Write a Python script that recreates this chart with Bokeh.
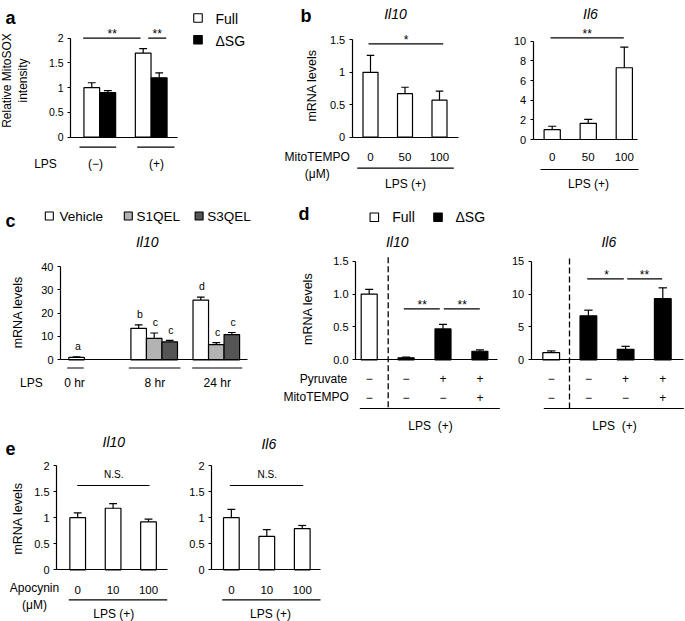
import math
from bokeh.plotting import figure
from bokeh.models import Range1d, LinearAxis, FixedTicker, CustomJSTickFormatter
from bokeh.layouts import row, column
from bokeh.core.properties import value
from bokeh.embed import file_html
from bokeh.resources import INLINE

FONT = "Liberation Sans"

# ---------------- data ----------------
# panel a: relative MitoSOX intensity
a_groups = ["(\u2212)", "(+)"]
a_full = [1.0, 1.70]
a_full_err = [0.10, 0.09]
a_dsg = [0.90, 1.20]
a_dsg_err = [0.04, 0.10]
a_yticks = [0, 0.5, 1, 1.5, 2]

# panel b: MitoTEMPO dose (uM)
b_doses = ["0", "50", "100"]
b_il10 = [1.0, 0.67, 0.57]
b_il10_err = [0.26, 0.10, 0.14]
b_il10_ticks = [0, 0.5, 1, 1.5]
b_il6 = [1.0, 1.65, 7.3]
b_il6_err = [0.35, 0.40, 2.10]
b_il6_ticks = [0, 2, 4, 6, 8, 10]

# panel c: Il10 time course
c_times = ["0 hr", "8 hr", "24 hr"]
c_vehicle = [1.0, 13.5, 25.6]
c_vehicle_err = [0.3, 1.5, 1.3]
c_vehicle_sig = ["a", "b", "d"]
c_s1qel = [9.2, 6.5]          # 8 hr, 24 hr
c_s1qel_err = [2.3, 0.9]
c_s1qel_sig = ["c", "c"]
c_s3qel = [7.7, 10.8]
c_s3qel_err = [0.6, 0.9]
c_s3qel_sig = ["c", "c"]
c_yticks = [0, 10, 20, 30, 40]

# panel d: Full vs dSG with pyruvate / MitoTEMPO
d_pyruvate = ["\u2212", "\u2212", "+", "+"]
d_mitotempo = ["\u2212", "\u2212", "\u2212", "+"]
d_il10_full, d_il10_full_err = 1.0, 0.07
d_il10_dsg = [0.03, 0.47, 0.13]
d_il10_dsg_err = [0.01, 0.07, 0.02]
d_il10_ticks = [0, 0.5, 1.0, 1.5]
d_il6_full, d_il6_full_err = 1.1, 0.25
d_il6_dsg = [6.7, 1.6, 9.3]
d_il6_dsg_err = [0.85, 0.45, 1.65]
d_il6_ticks = [0, 5, 10, 15]

# panel e: Apocynin dose (uM)
e_doses = ["0", "10", "100"]
e_il10 = [1.0, 1.18, 0.92]
e_il10_err = [0.09, 0.09, 0.05]
e_il6 = [1.0, 0.64, 0.79]
e_il6_err = [0.16, 0.13, 0.06]
e_yticks = [0, 0.5, 1, 1.5, 2]


# ---------------- helpers ----------------
class Panel:
    """A figure whose frame covers its whole box; xm/ym give where value 0 sits and px per unit."""
    def __init__(self, box, xm, ym):
        L, T, W, H = box
        self.xm, self.ym = xm, ym
        x0 = (L - xm[0]) / xm[1]
        x1 = (L + W - xm[0]) / xm[1]
        y1 = (ym[0] - T) / ym[1]
        y0 = (ym[0] - (T + H)) / ym[1]
        p = figure(width=W, height=H, x_range=Range1d(x0, x1), y_range=Range1d(y0, y1),
                   x_axis_type=None, y_axis_type=None, toolbar_location=None,
                   output_backend="svg", outline_line_color=None,
                   background_fill_color="white", border_fill_color="white")
        p.min_border_left = p.min_border_right = 0
        p.min_border_top = p.min_border_bottom = 0
        self.p = p

    def X(self, px):
        return (px - self.xm[0]) / self.xm[1]

    def Y(self, py):
        return (self.ym[0] - py) / self.ym[1]

    def text(self, x, py, s, size="12px", align="center", style="normal",
             baseline="middle", angle=0.0, data_x=False):
        xx = x if data_x else self.X(x)
        self.p.text(x=[xx], y=[self.Y(py)], text=[s], text_font=value(FONT),
                    text_font_size=size, text_align=align, text_baseline=baseline,
                    text_font_style=style, angle=angle, text_color="black")

    def hline(self, px0, px1, py, lw=1.2, dash="solid"):
        self.p.segment(x0=[self.X(px0)], y0=[self.Y(py)], x1=[self.X(px1)], y1=[self.Y(py)],
                       line_color="black", line_width=lw, line_dash=dash)

    def vline(self, px, py0, py1, lw=1.3, dash="solid"):
        self.p.segment(x0=[self.X(px)], y0=[self.Y(py0)], x1=[self.X(px)], y1=[self.Y(py1)],
                       line_color="black", line_width=lw, line_dash=dash)

    def yaxis(self, ticks, code, px, size="11px"):
        ax = LinearAxis(fixed_location=self.X(px), bounds=(ticks[0], ticks[-1]),
                        ticker=FixedTicker(ticks=ticks, minor_ticks=[]),
                        formatter=CustomJSTickFormatter(code=code),
                        major_tick_in=0, major_tick_out=3, minor_tick_line_color=None,
                        axis_line_color="black", axis_line_width=1.2,
                        major_tick_line_color="black", major_tick_line_width=1.2,
                        major_label_standoff=4, major_label_text_font=FONT,
                        major_label_text_font_size=size, major_label_text_color="black")
        self.p.add_layout(ax, "left")

    def xaxis(self, px0, px1):
        ax = LinearAxis(fixed_location=0, bounds=(self.X(px0), self.X(px1)),
                        ticker=FixedTicker(ticks=[], minor_ticks=[]),
                        major_tick_line_color=None, minor_tick_line_color=None,
                        major_label_text_font_size="0px",
                        axis_line_color="black", axis_line_width=1.2)
        self.p.add_layout(ax, "below")

    def bars(self, xs, vals, errs, bw, color, lw=1.2):
        self.p.vbar(x=xs, top=vals, bottom=0, width=bw, fill_color=color,
                    line_color="black", line_width=lw)
        tops = [v + e for v, e in zip(vals, errs)]
        self.p.segment(x0=xs, y0=vals, x1=xs, y1=tops, line_color="black", line_width=lw)
        cw = bw * 0.5
        self.p.segment(x0=[x - cw / 2 for x in xs], y0=tops, x1=[x + cw / 2 for x in xs],
                       y1=tops, line_color="black", line_width=lw)

    def square(self, px, py, fill, size=8.5):
        self.p.scatter(x=[self.X(px)], y=[self.Y(py)], marker="square", size=size,
                       fill_color=fill, line_color="black", line_width=1.1)


PLAIN = "return tick.toString();"
FIXED1 = "return tick.toFixed(1);"
LBL = "12px"
TICKCAT = "11.5px"
LETTER = "18px"
TITLE = "14px"

# ---------------- panel a ----------------
A = Panel((0, 0, 252, 192), (47.9, 51.4), (136.7, 49.5))
a_pos = [1, 2]
a_off, a_bw = 0.156, 0.305
A.yaxis(a_yticks, PLAIN, 70, size="10.5px")
A.xaxis(70, 176.7)
A.bars([g - a_off for g in a_pos], a_full, a_full_err, a_bw, "white")
A.bars([g + a_off for g in a_pos], a_dsg, a_dsg_err, a_bw, "black")
A.hline(82.7, 140, 37.7)
A.hline(147.7, 165.7, 37.7)
A.text(111.7, 33, "**", size="12px")
A.text(156.7, 33, "**", size="12px")
A.hline(79, 115.7, 146.7)
A.hline(136.7, 174, 146.7)
A.text(45, 163, "LPS", size=LBL)
A.text(95, 163, a_groups[0], size=LBL)
A.text(156, 163, a_groups[1], size=LBL)
A.text(6.5, 80, "Relative MitoSOX", size=LBL, angle=math.pi / 2)
A.text(22.5, 80, "intensity", size=LBL, angle=math.pi / 2)
A.text(5, 17, "a", size=LETTER, style="bold", align="left", baseline="alphabetic")
A.square(197.5, 17.5, "white")
A.square(197.5, 39.2, "black")
A.text(215, 18, "Full", size="14px", align="left")
A.text(215, 40, "\u0394SG", size="14px", align="left")

# ---------------- panel b (Il10) ----------------
B1 = Panel((252, 0, 223, 192), (335.5, 34.5), (136.7, 64.9))
b_pos = [1, 2, 3]
B1.yaxis(b_il10_ticks, PLAIN, 351.7)
B1.xaxis(351.7, 458)
B1.bars(b_pos, b_il10, b_il10_err, 0.435, "white")
B1.hline(368, 442.7, 43.3)
B1.text(405.7, 39.5, "*", size="12px")
for xp, d in zip(b_pos, b_doses):
    B1.text(xp, 156.7, d, size=TICKCAT, data_x=True)
B1.text(316.7, 156, "MitoTEMPO", size=LBL)
B1.text(316.7, 173.3, "(\u03bcM)", size=LBL)
B1.hline(356.7, 453.3, 167.7)
B1.text(405, 183.3, "LPS (+)", size=LBL)
B1.text(300, 15, "b", size=LETTER, style="bold", align="left", baseline="alphabetic")
B1.text(395, 13, "Il10", size=TITLE, style="italic")
B1.text(311, 85, "mRNA levels", size="12.5px", angle=math.pi / 2)

# ---------------- panel b (Il6) ----------------
B2 = Panel((475, 0, 210, 192), (515.65, 36.05), (139, 9.83))
B2.yaxis(b_il6_ticks, PLAIN, 532.7)
B2.xaxis(532.7, 636.7)
B2.bars(b_pos, b_il6, b_il6_err, 0.45, "white")
B2.hline(550, 623.3, 37.3)
B2.text(586.7, 33, "**", size="12px")
for xp, d in zip(b_pos, b_doses):
    B2.text(xp, 156.7, d, size=TICKCAT, data_x=True)
B2.hline(540, 638, 169)
B2.text(588, 183.3, "LPS (+)", size=LBL)
B2.text(590, 13.3, "Il6", size=TITLE, style="italic")

# ---------------- panel c ----------------
C = Panel((0, 192, 275, 241), (91.6, 62.1), (359.3, 2.3325))
c_grp = [0, 1, 2]
c_bw = 0.25
C.yaxis(c_yticks, PLAIN, 60)
C.xaxis(60, 247)
veh_x = [g - c_bw for g in c_grp]
s1_x = [g for g in c_grp[1:]]
s3_x = [g + c_bw for g in c_grp[1:]]
C.bars(veh_x, c_vehicle, c_vehicle_err, c_bw, "white")
C.bars(s1_x, c_s1qel, c_s1qel_err, c_bw, "#b3b3b3")
C.bars(s3_x, c_s3qel, c_s3qel_err, c_bw, "#555555")
for xs, vs, es, ls in [(veh_x, c_vehicle, c_vehicle_err, c_vehicle_sig),
                       (s1_x, c_s1qel, c_s1qel_err, c_s1qel_sig),
                       (s3_x, c_s3qel, c_s3qel_err, c_s3qel_sig)]:
    C.p.text(x=[x + 0.02 for x in xs], y=[v + e + 4.6 for v, e in zip(vs, es)], text=ls,
             text_font=value(FONT), text_font_size="10.5px", text_align="center",
             text_baseline="middle", text_color="black")
C.hline(66.7, 83.3, 367.5)
C.hline(128.3, 180, 367.5)
C.hline(191.7, 241.7, 367.5)
C.text(30.8, 382.7, "LPS", size=LBL)
C.text(74, 382.7, c_times[0], size=LBL)
C.text(154.3, 382.7, c_times[1], size=LBL)
C.text(216.7, 382.7, c_times[2], size=LBL)
C.text(17, 311.7, "mRNA levels", size="12.5px", angle=math.pi / 2)
C.text(146.7, 241.7, "Il10", size=TITLE, style="italic")
C.text(5, 220.5, "c", size=LETTER, style="bold", align="left", baseline="alphabetic")
C.square(48.8, 215.5, "white", size=8)
C.square(127.8, 215.5, "#b3b3b3", size=8)
C.square(198.6, 215.5, "#555555", size=8)
C.text(59, 215.5, "Vehicle", size="13.5px", align="left")
C.text(136, 215.5, "S1QEL", size="13.5px", align="left")
C.text(206.7, 215.5, "S3QEL", size="13.5px", align="left")

# ---------------- panel d (Il10) ----------------
D1 = Panel((275, 192, 225, 241), (331.8, 36.9), (359.3, 65.73))
d_pos = [1, 2, 3, 4]
D1.yaxis(d_il10_ticks, FIXED1, 355)
D1.xaxis(355, 497)
D1.vline(387.7, 256.7, 408, dash="6 3")
D1.bars([d_pos[0]], [d_il10_full], [d_il10_full_err], 0.434, "white")
D1.bars(d_pos[1:], d_il10_dsg, d_il10_dsg_err, 0.434, "black")
D1.hline(403.3, 439.3, 308.3)
D1.hline(443.3, 479.3, 308.3)
D1.text(421.7, 304, "**", size="12px")
D1.text(461.7, 304, "**", size="12px")
D1.text(346.7, 378.3, "Pyruvate", size=LBL, align="right")
D1.text(348.3, 396.7, "MitoTEMPO", size=LBL, align="right")
for xp, s1, s2 in zip(d_pos, d_pyruvate, d_mitotempo):
    D1.text(xp, 378.3, s1, size=LBL, data_x=True)
    D1.text(xp, 396.7, s2, size=LBL, data_x=True)
D1.hline(359.3, 499.3, 408)
D1.text(430, 425, "LPS\u00a0 (+)", size=LBL)
D1.text(396.7, 241.7, "Il10", size=TITLE, style="italic")
D1.text(298, 213, "d", size=LETTER, style="bold", align="left", baseline="alphabetic")
D1.square(373.8, 216.7, "white")
D1.square(437.5, 216.7, "black")
D1.text(391.7, 216.7, "Full", size="14px", align="left")
D1.text(455, 216.7, "\u0394SG", size="14px", align="left")
D1.text(307, 308.3, "mRNA levels", size="12.5px", angle=math.pi / 2)

# ---------------- panel d (Il6) ----------------
D2 = Panel((500, 192, 185, 241), (513.5, 37.2), (359.3, 6.573))
D2.yaxis(d_il6_ticks, PLAIN, 530.7)
D2.xaxis(530.7, 683)
D2.vline(569, 258, 408, dash="6 3")
D2.bars([d_pos[0]], [d_il6_full], [d_il6_full_err], 0.45, "white")
D2.bars(d_pos[1:], d_il6_dsg, d_il6_dsg_err, 0.45, "black")
D2.hline(586.7, 623.3, 278.3)
D2.hline(626.7, 661.7, 278.3)
D2.text(606, 274, "*", size="12px")
D2.text(644, 274, "**", size="12px")
for xp, s1, s2 in zip(d_pos, d_pyruvate, d_mitotempo):
    D2.text(xp, 378.3, s1, size=LBL, data_x=True)
    D2.text(xp, 396.7, s2, size=LBL, data_x=True)
D2.hline(543.3, 683.3, 408)
D2.text(614, 425, "LPS\u00a0 (+)", size=LBL)
D2.text(608.3, 241.7, "Il6", size=TITLE, style="italic")

# ---------------- panel e (Il10) ----------------
E1 = Panel((0, 433, 180, 188), (41.8, 35.4), (569.3, 52.15))
e_pos = [1, 2, 3]
E1.yaxis(e_yticks, PLAIN, 56)
E1.xaxis(56, 166.7)
E1.bars(e_pos, e_il10, e_il10_err, 0.443, "white")
E1.hline(76.7, 149, 485)
E1.text(113.3, 474, "N.S.", size="10px")
for xp, d in zip(e_pos, e_doses):
    E1.text(xp, 589.3, d, size=TICKCAT, data_x=True)
E1.text(34, 587.3, "Apocynin", size=LBL)
E1.text(34, 604, "(\u03bcM)", size=LBL)
E1.hline(68.3, 166.7, 599.3)
E1.text(113.3, 613.3, "LPS (+)", size=LBL)
E1.text(5, 448, "e", size=LETTER, style="bold", align="left", baseline="alphabetic")
E1.text(113.3, 441.7, "Il10", size=TITLE, style="italic")
E1.text(17, 518, "mRNA levels", size="12.5px", angle=math.pi / 2)

# ---------------- panel e (Il6) ----------------
E2 = Panel((180, 433, 220, 188), (195.4, 35.45), (569.3, 52.15))
E2.yaxis(e_yticks, PLAIN, 211)
E2.xaxis(211, 320)
E2.bars(e_pos, e_il6, e_il6_err, 0.443, "white")
E2.hline(229.3, 302.7, 485)
E2.text(266.7, 474, "N.S.", size="10px")
for xp, d in zip(e_pos, e_doses):
    E2.text(xp, 589.3, d, size=TICKCAT, data_x=True)
E2.hline(221.7, 320, 599.3)
E2.text(270, 613.3, "LPS (+)", size=LBL)
E2.text(268.3, 443.3, "Il6", size=TITLE, style="italic")

layout = column(row(A.p, B1.p, B2.p), row(C.p, D1.p, D2.p), row(E1.p, E2.p))
open("out.html", "w").write(file_html(layout, INLINE))
